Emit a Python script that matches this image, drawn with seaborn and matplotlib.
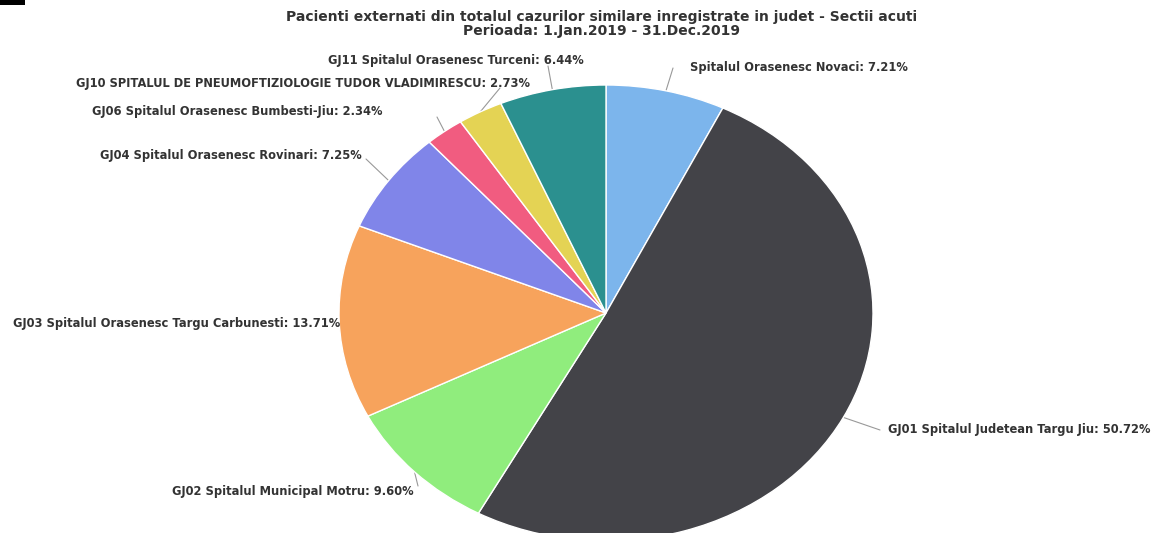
import matplotlib
matplotlib.use("Agg")
import matplotlib.pyplot as plt
import seaborn as sns
import numpy as np
from matplotlib.patches import Rectangle

sns.set_theme(style="white")
plt.rcParams['font.family'] = ['DejaVu Sans']

# ---- data ----
categories = [
    "Spitalul Orasenesc Novaci",
    "GJ01 Spitalul Judetean Targu Jiu",
    "GJ02 Spitalul Municipal Motru",
    "GJ03 Spitalul Orasenesc Targu Carbunesti",
    "GJ04 Spitalul Orasenesc Rovinari",
    "GJ06 Spitalul Orasenesc Bumbesti-Jiu",
    "GJ10 SPITALUL DE PNEUMOFTIZIOLOGIE TUDOR VLADIMIRESCU",
    "GJ11 Spitalul Orasenesc Turceni",
]
values = [7.21, 50.72, 9.60, 13.71, 7.25, 2.34, 2.73, 6.44]
colors = ["#7cb5ec", "#434348", "#90ed7d", "#f7a35c", "#8085e9", "#f15c80", "#e4d354", "#2b908f"]
title_text = ("Pacienti externati din totalul cazurilor similare inregistrate in judet - Sectii acuti\n"
              "Perioada: 1.Jan.2019 - 31.Dec.2019")

# ---- layout (pixels) ----
W, H = 1156, 533
cx, cy = 606, 313          # pie centre
rx, ry = 267, 228          # pie radii (stretched)
# label text anchor (x, y, ha) and connector end (x, y) in pixels
label_pos = [
    (690, 67, "left", 673, 68),
    (888, 430, "left", 880, 430),
    (414, 491, "right", 418, 486),
    (340, 323, "right", 342, 323),
    (362, 155, "right", 366, 159),
    (383, 112, "right", 437, 117),
    (530, 83, "right", 500, 88),
    (584, 61, "right", 548, 66),
]

fig = plt.figure(figsize=(W / 100, H / 100), dpi=100)
ax = fig.add_axes([0, 0, 1, 1])

def px2d(px, py):
    return (px - cx) / rx, (cy - py) / ry

wedges, _ = ax.pie(values, colors=colors, startangle=90, counterclock=False,
                   radius=1, center=(0, 0),
                   wedgeprops=dict(edgecolor="white", linewidth=1))
ax.set_aspect("auto")
x0, _ = px2d(0, 0)
x1, _ = px2d(W, 0)
_, y0 = px2d(0, H)
_, y1 = px2d(0, 0)
ax.set_xlim(x0, x1)
ax.set_ylim(y0, y1)
ax.axis("off")

for w, cat, val, (lx, ly, ha, kx, ky) in zip(wedges, categories, values, label_pos):
    ang = np.deg2rad((w.theta1 + w.theta2) / 2)
    ex, ey = np.cos(ang), np.sin(ang)
    tx, ty = px2d(lx, ly)
    qx, qy = px2d(kx, ky)
    ax.plot([ex, qx], [ey, qy], color="#999999", lw=0.8, zorder=0)
    ax.text(tx, ty, f"{cat}: {val:.2f}%", ha=ha, va="center",
            fontsize=8.3, fontweight="bold", color="#333333")

fig.text(0.52, 1 - 24 / H, title_text, ha="center", va="center",
         fontsize=10, color="#333333", linespacing=1.0, fontweight="bold")

fig.add_artist(Rectangle((0, 1 - 5 / H), 25 / W, 5 / H, transform=fig.transFigure,
                         color="black", lw=0))

fig.savefig("out.png", dpi=100, facecolor="white")
